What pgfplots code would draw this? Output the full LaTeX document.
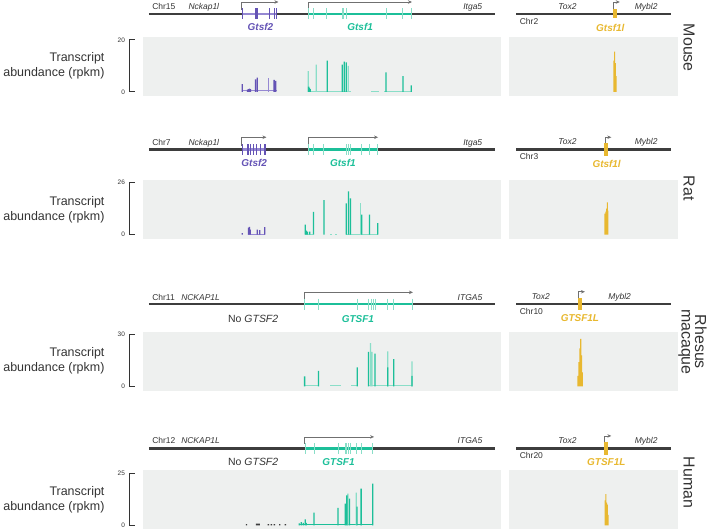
\documentclass[border=0pt]{standalone}
\usepackage{fontspec}
\setmainfont{Liberation Sans}
\usepackage{pgfplots}
\pgfplotsset{compat=1.18}
\usetikzlibrary{arrows.meta}

\definecolor{chrline}{HTML}{3D3D3D}
\definecolor{txt}{HTML}{333333}
\definecolor{arr}{HTML}{707070}
\definecolor{pur}{HTML}{6453B5}
\definecolor{purL}{HTML}{9588D2}
\definecolor{tea}{HTML}{1CBF99}
\definecolor{teaL}{HTML}{8ADEC8}
\definecolor{gold}{HTML}{E8B830}
\definecolor{panel}{HTML}{EEF0EF}

\pgfplotsset{
  % gene tracks (pixel space of the master axis)
  chr/.style={chrline, line width=2.6pt},
  body/.style={line width=2.6pt},
  exon/.style={only marks, mark=|, mark size=5.5pt, mark options={line width=0.9pt}},
  tss/.style={arr, line width=0.7pt, -{Stealth[length=4pt,width=3.5pt]}},
  gblock/.style={gold, line width=4pt},
  % coverage panels
  cov/.style={scale only axis, height=59pt, anchor=south west, clip=false,
    axis background/.style={fill=panel}, axis line style={draw=none},
    xtick=\empty, ytick=\empty},
  covL/.style={cov, width=359pt, xmin=141, xmax=500},
  covR/.style={cov, width=170pt, xmin=508, xmax=678},
  spike/.style={ybar, bar width=1.3pt, bar shift=0pt, draw=none},
  base/.style={line width=0.6pt},
  bracket/.style={txt, line width=0.8pt},
}
\tikzset{
  lab/.style={txt, font=\fontsize{8.5}{10}\selectfont},
  gname/.style={font=\fontsize{10}{12}\selectfont\bfseries\itshape, anchor=base},
  nog/.style={txt, font=\fontsize{10.5}{12}\selectfont, anchor=base},
  num/.style={txt, font=\fontsize{6.5}{8}\selectfont, anchor=east},
  ylab/.style={txt, font=\fontsize{12.5}{15}\selectfont, align=right, anchor=east},
  sp/.style={txt, font=\fontsize{16}{16}\selectfont, rotate=-90, align=center},
}

\begin{document}
\begin{tikzpicture}

% ---------------- coverage: mouse ----------------
\begin{axis}[covL, at={(141pt,-96pt)}, ymin=-1.5, ymax=21.15]
\addplot[base, purL] coordinates {(240,0.4) (276,0.4)};
\addplot[spike, fill=pur] coordinates {(240.7,3) (246,0.8) (247,1) (248,1.2) (249,1) (254,4.8) (255.7,5.5) (272.7,4.6) (274.3,4.2)};
\addplot[spike, fill=purL] coordinates {(267.3,5.5)};
\addplot[base, teaL] coordinates {(307,0.3) (350,0.3)};
\addplot[base, teaL] coordinates {(370,0.3) (378,0.3)};
\addplot[base, teaL] coordinates {(383,0.3) (411,0.3)};
\addplot[spike, fill=teaL] coordinates {(307,8) (315,10.5) (347,10)};
\addplot[spike, fill=tea] coordinates {(307.3,2) (308.2,1.5) (309,1) (326,12) (341,10.5) (343,11.6) (345,11.3) (385,7.5) (402,6) (410.3,2.5)};
\addplot[bracket] coordinates {(133,20) (128,20) (128,0) (133,0)};
\node[num] at (axis cs:126.5,20) {20};
\node[num] at (axis cs:126.5,0) {0};
\end{axis}
\begin{axis}[covR, at={(508pt,-96pt)}, ymin=-1.5, ymax=21.15]
\addplot[spike, fill=gold, bar width=0.9pt] coordinates {(613.5,12) (614.3,15.5) (615.1,11) (615.9,6)};
\end{axis}

% ---------------- coverage: rat ----------------
\begin{axis}[covL, at={(141pt,-240pt)}, ymin=-2.3, ymax=27]
\addplot[base, purL] coordinates {(246,0.4) (264,0.4)};
\addplot[spike, fill=pur] coordinates {(240.7,0.8) (247,3.5) (248,3.8) (248.7,2.5) (255.7,2.5) (258.3,2.2) (263.3,3.7)};
\addplot[base, teaL] coordinates {(304,0.3) (312,0.3)};
\addplot[base, teaL] coordinates {(329,0.3) (331,0.3)};
\addplot[base, teaL] coordinates {(334,0.3) (336,0.3)};
\addplot[base, teaL] coordinates {(345,0.3) (377,0.3)};
\addplot[spike, fill=teaL] coordinates {(359.3,15.9)};
\addplot[spike, fill=tea] coordinates {(304,5) (305,2) (306,1.5) (308.3,1.5) (312.3,11.3) (322.7,17.2) (345,15.6) (347.3,21.5) (349.3,18.1) (360.7,10) (368.3,9.9) (376.7,5.7)};
\addplot[bracket] coordinates {(133,26) (128,26) (128,0) (133,0)};
\node[num] at (axis cs:126.5,26) {26};
\node[num] at (axis cs:126.5,0) {0};
\end{axis}
\begin{axis}[covR, at={(508pt,-240pt)}, ymin=-2.3, ymax=27]
\addplot[spike, fill=gold, bar width=0.9pt] coordinates {(604.6,10.5) (605.4,11.5) (606.2,13) (607,16) (607.6,12)};
\end{axis}

% ---------------- coverage: rhesus macaque ----------------
\begin{axis}[covL, at={(141pt,-392pt)}, ymin=-2.6, ymax=31.56]
\addplot[base, teaL] coordinates {(303,0.3) (317,0.3)};
\addplot[base, teaL] coordinates {(329,0.3) (340,0.3)};
\addplot[base, teaL] coordinates {(350,0.3) (356,0.3)};
\addplot[base, teaL] coordinates {(367,0.3) (411,0.3)};
\addplot[spike, fill=teaL] coordinates {(369.3,25) (371,20) (386.7,20.3) (411,14.5)};
\addplot[spike, fill=tea] coordinates {(303.3,5.8) (317.3,9) (356,11) (367.3,20) (374,19) (386.7,11) (392.7,15.7) (411,6)};
\addplot[bracket] coordinates {(133,30) (128,30) (128,0) (133,0)};
\node[num] at (axis cs:126.5,30) {30};
\node[num] at (axis cs:126.5,0) {0};
\end{axis}
\begin{axis}[covR, at={(508pt,-392pt)}, ymin=-2.6, ymax=31.56]
\addplot[spike, fill=gold, bar width=1.1pt] coordinates {(577.5,6) (578.5,14) (579.5,22) (580.3,27.5) (581.1,18) (582,8)};
\end{axis}

% ---------------- coverage: human ----------------
\begin{axis}[covL, at={(141pt,-531pt)}, ymin=-1.9, ymax=26.44]
\addplot[spike, fill=chrline, bar width=1.4pt] coordinates {(245,0.6) (255,0.8) (256.3,0.8) (257.6,0.8) (267,0.6) (270,0.6) (273,0.6) (278.3,0.6) (284,0.6)};
\addplot[base, tea] coordinates {(298,0.4) (372,0.4)};
\addplot[spike, fill=teaL] coordinates {(346.7,15.3) (355,15.8)};
\addplot[spike, fill=tea] coordinates {(298,1) (300,1.5) (302,1.2) (304,2.9) (305,1.2) (312.7,6.1) (336.7,8.4) (344,10.5) (345.7,14.5) (348.3,12.9) (355.8,9) (360,17.7) (371.7,20.1)};
\addplot[bracket] coordinates {(133,25) (128,25) (128,0) (133,0)};
\node[num] at (axis cs:126.5,25) {25};
\node[num] at (axis cs:126.5,0) {0};
\end{axis}
\begin{axis}[covR, at={(508pt,-531pt)}, ymin=-1.9, ymax=26.44]
\addplot[spike, fill=gold, bar width=0.9pt] coordinates {(604.8,12) (605.5,15) (606.3,11) (607.1,10) (607.9,5)};
\end{axis}

% ---------------- master axis: gene tracks and labels ----------------
\begin{axis}[at={(0pt,0pt)}, anchor=north west, scale only axis,
  width=708pt, height=531pt, xmin=0, xmax=708, ymin=0, ymax=531,
  y dir=reverse, hide axis, clip=false]
\addplot[draw=none] coordinates {(0,0) (708,531)};

% mouse
\addplot[chr] coordinates {(147,14) (494,14)};
\addplot[body, purL] coordinates {(240,14) (276,14)};
\addplot[exon, pur] coordinates {(240.7,14) (253.5,14) (254.5,14) (255.5,14) (268.3,14) (272.7,14) (275.3,14)};
\addplot[tss] coordinates {(240.3,10) (240.3,2) (277,2)};
\addplot[body, tea] coordinates {(306.7,14) (410.7,14)};
\addplot[exon, teaL] coordinates {(307.3,14) (311.7,14) (325,14) (341,14) (342.7,14) (345,14) (385,14) (401.7,14) (410.3,14)};
\addplot[tss] coordinates {(306.9,10) (306.9,2) (411,2)};
\addplot[chr] coordinates {(515.7,14) (670.7,14)};
\addplot[gblock] coordinates {(615,9) (615,18)};
\addplot[tss] coordinates {(613,9) (613,2) (619.5,2)};
\node[lab, anchor=base west] at (axis cs:147,9.5) {Chr15};
\node[lab, anchor=base west] at (axis cs:183.3,9.5) {\itshape Nckap1l};
\node[lab, anchor=base east] at (axis cs:485,9.5) {\itshape Itga5};
\node[gname, pur] at (axis cs:259,31) {Gtsf2};
\node[gname, tea] at (axis cs:359,31) {Gtsf1};
\node[lab, anchor=base] at (axis cs:567,10) {\itshape Tox2};
\node[lab, anchor=base] at (axis cs:646,10) {\itshape Mybl2};
\node[lab, anchor=base west] at (axis cs:515.7,25) {Chr2};
\node[gname, gold] at (axis cs:610,31.5) {Gtsf1l};

% rat
\addplot[chr] coordinates {(147,150) (494,150)};
\addplot[body, purL] coordinates {(240,150) (264,150)};
\addplot[exon, pur] coordinates {(240.7,150) (246,150) (247.3,150) (248.7,150) (251.7,150) (255,150) (259.3,150) (262.7,150) (264,150)};
\addplot[tss] coordinates {(240.3,146) (240.3,137.7) (265,137.7)};
\addplot[body, tea] coordinates {(306.7,150) (376.7,150)};
\addplot[exon, teaL] coordinates {(307.3,150) (311.7,150) (322.3,150) (345,150) (347.3,150) (349.3,150) (360,150) (368.3,150) (376.7,150)};
\addplot[tss] coordinates {(306.9,146) (306.9,137.7) (377,137.7)};
\addplot[chr] coordinates {(515.7,150) (670.7,150)};
\addplot[gblock] coordinates {(606,143.5) (606,156.5)};
\addplot[tss] coordinates {(604.8,143.5) (604.8,137.7) (611,137.7)};
\node[lab, anchor=base west] at (axis cs:147,145.5) {Chr7};
\node[lab, anchor=base west] at (axis cs:183.3,145.5) {\itshape Nckap1l};
\node[lab, anchor=base east] at (axis cs:485,145.5) {\itshape Itga5};
\node[gname, pur] at (axis cs:252.7,167) {Gtsf2};
\node[gname, tea] at (axis cs:341.7,167) {Gtsf1};
\node[lab, anchor=base] at (axis cs:567,145) {\itshape Tox2};
\node[lab, anchor=base] at (axis cs:646,145) {\itshape Mybl2};
\node[lab, anchor=base west] at (axis cs:515.7,160.5) {Chr3};
\node[gname, gold] at (axis cs:606.3,168) {Gtsf1l};

% rhesus macaque
\addplot[chr] coordinates {(147,305) (494,305)};
\addplot[body, tea] coordinates {(303.3,305) (411.7,305)};
\addplot[exon, teaL] coordinates {(303.3,305) (317.3,305) (356,305) (367.3,305) (370,305) (372.3,305) (374.3,305) (386,305) (392.3,305) (411.7,305)};
\addplot[tss] coordinates {(303.5,300) (303.5,293.3) (412,293.3)};
\addplot[chr] coordinates {(515.7,305) (670.7,305)};
\addplot[gblock] coordinates {(580,299) (580,311)};
\addplot[tss] coordinates {(578.3,299) (578.3,292.7) (584.5,292.7)};
\node[lab, anchor=base west] at (axis cs:147,301) {Chr11};
\node[lab, anchor=base west] at (axis cs:176,301) {\itshape NCKAP1L};
\node[lab, anchor=base east] at (axis cs:485,301) {\itshape ITGA5};
\node[nog] at (axis cs:251.7,323.5) {No \textit{GTSF2}};
\node[gname, tea] at (axis cs:356.7,323.5) {GTSF1};
\node[lab, anchor=base] at (axis cs:540.3,300.5) {\itshape Tox2};
\node[lab, anchor=base] at (axis cs:619.3,300.5) {\itshape Mybl2};
\node[lab, anchor=base west] at (axis cs:515.7,315.5) {Chr10};
\node[gname, gold] at (axis cs:579.5,323) {GTSF1L};

% human
\addplot[chr] coordinates {(147,450) (494,450)};
\addplot[body, tea] coordinates {(303.3,450) (372.3,450)};
\addplot[exon, teaL] coordinates {(304,450) (312.7,450) (337.3,450) (344,450) (345.7,450) (347.3,450) (349,450) (355.7,450) (360.7,450) (371.7,450)};
\addplot[tss] coordinates {(303.5,445) (303.5,438.3) (373,438.3)};
\addplot[chr] coordinates {(515.7,450) (670.7,450)};
\addplot[gblock] coordinates {(606,443) (606,456.5)};
\addplot[tss] coordinates {(604.5,443) (604.5,437.3) (611,437.3)};
\node[lab, anchor=base west] at (axis cs:147,445) {Chr12};
\node[lab, anchor=base west] at (axis cs:176,445) {\itshape NCKAP1L};
\node[lab, anchor=base east] at (axis cs:485,445) {\itshape ITGA5};
\node[nog] at (axis cs:251.7,466.5) {No \textit{GTSF2}};
\node[gname, tea] at (axis cs:337.3,466.5) {GTSF1};
\node[lab, anchor=base] at (axis cs:567,445) {\itshape Tox2};
\node[lab, anchor=base] at (axis cs:646,445) {\itshape Mybl2};
\node[lab, anchor=base west] at (axis cs:515.7,459.5) {Chr20};
\node[gname, gold] at (axis cs:606,466.5) {GTSF1L};

% y labels and species
\node[ylab] at (axis cs:106,66) {Transcript\\abundance (rpkm)};
\node[ylab] at (axis cs:106,210) {Transcript\\abundance (rpkm)};
\node[ylab] at (axis cs:106,361.5) {Transcript\\abundance (rpkm)};
\node[ylab] at (axis cs:106,501) {Transcript\\abundance (rpkm)};
\node[sp] at (axis cs:689,48) {Mouse};
\node[sp] at (axis cs:689,189) {Rat};
\node[sp, font=\fontsize{16}{13.5}\selectfont, inner sep=0pt] at (axis cs:692.5,343) {Rhesus\\macaque};
\node[sp] at (axis cs:689,484) {Human};
\end{axis}

\end{tikzpicture}
\end{document}
